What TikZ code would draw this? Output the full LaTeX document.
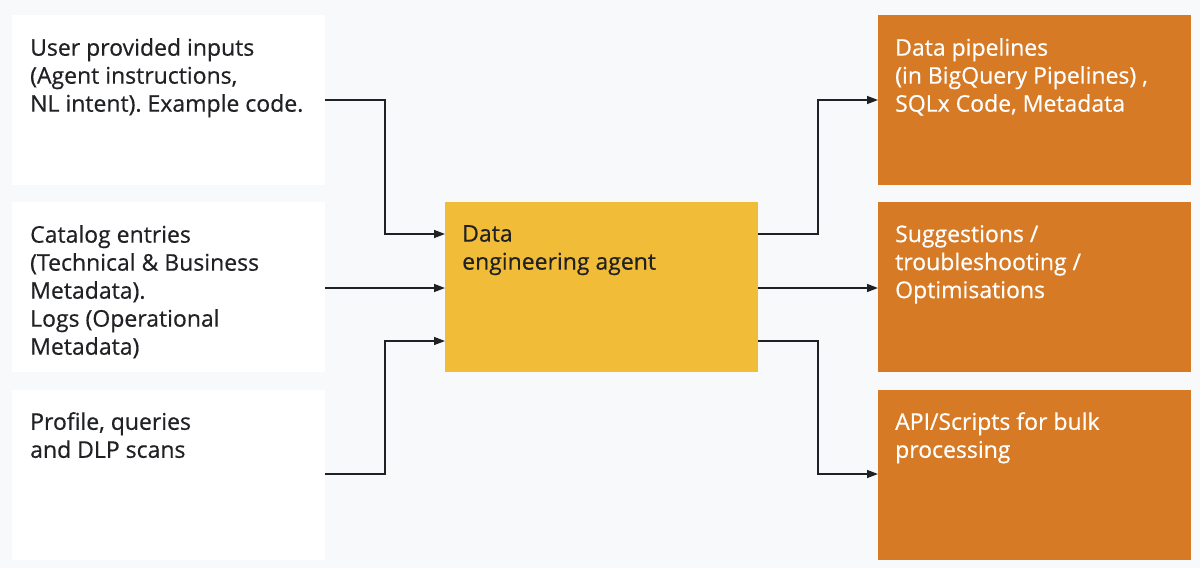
\documentclass[tikz,border=0pt]{standalone}
\usepackage{fontspec}
\setmainfont{Open Sans}[BoldFont={Open Sans},BoldFeatures={FakeBold=0.5}]
\usetikzlibrary{arrows.meta}
\definecolor{bgc}{HTML}{F8F9FA}
\definecolor{yel}{HTML}{F1BD38}
\definecolor{org}{HTML}{D67A25}
\definecolor{ink}{HTML}{202124}
\tikzset{
  box/.style={draw=none,minimum width=313pt,minimum height=170pt,inner sep=0pt,outer sep=0pt},
  inbox/.style={box,fill=white},
  agentbox/.style={box,fill=yel},
  outbox/.style={box,fill=org},
  txt/.style={anchor=north west,align=left,inner sep=0pt,font=\fontsize{23}{28}\selectfont\frenchspacing\bfseries,text=ink},
  wtxt/.style={txt,text=white},
  conn/.style={draw=ink,line width=1.4pt,-{Triangle[length=11pt,width=8pt]}}
}
\begin{document}
\begin{tikzpicture}[x=1pt,y=-1pt]
\fill[bgc] (0,0) rectangle (1200,568);
\useasboundingbox (0,0) rectangle (1200,568);
% left inputs
\node[inbox,anchor=north west] (in1) at (12,15) {};
\node[inbox,anchor=north west] (in2) at (12,202) {};
\node[inbox,anchor=north west] (in3) at (12,390) {};
% agent
\node[agentbox,anchor=north west] (ag) at (445,202) {};
% outputs
\node[outbox,anchor=north west] (out1) at (878,15) {};
\node[outbox,anchor=north west] (out2) at (878,202) {};
\node[outbox,anchor=north west] (out3) at (878,390) {};
% texts
\node[txt] (t1) at (30,38) {User provided inputs\\(Agent instructions,\\NL intent). Example code.};
\node[txt] (t2) at (30,225) {Catalog entries\\(Technical \& Business\\Metadata).\\Logs (Operational\\Metadata)};
\node[txt] (t3) at (30,412) {Profile, queries\\and DLP scans};
\node[txt] (ta) at (462,225) {Data\\engineering agent};
\node[wtxt] (to1) at (895,38) {Data pipelines\\(in BigQuery Pipelines) ,\\SQLx Code, Metadata};
\node[wtxt] (to2) at (895,225) {Suggestions /\\troubleshooting /\\Optimisations};
\node[wtxt] (to3) at (895,412) {API/Scripts for bulk\\processing};
% connectors
\coordinate (a1) at (445,234);
\coordinate (a2) at (445,288);
\coordinate (a3) at (445,341);
\draw[conn] (in1.east |- 0,100) -| (385,234) -- (a1);
\draw[conn] (in2.east |- a2) -- (a2);
\draw[conn] (in3.east |- 0,474) -| (385,341) -- (a3);
\draw[conn] (ag.east |- a1) -| (818,100) -- (out1.west |- 0,100);
\draw[conn] (ag.east |- a2) -- (out2.west |- a2);
\draw[conn] (ag.east |- a3) -| (818,474) -- (out3.west |- 0,474);
\end{tikzpicture}
\end{document}
